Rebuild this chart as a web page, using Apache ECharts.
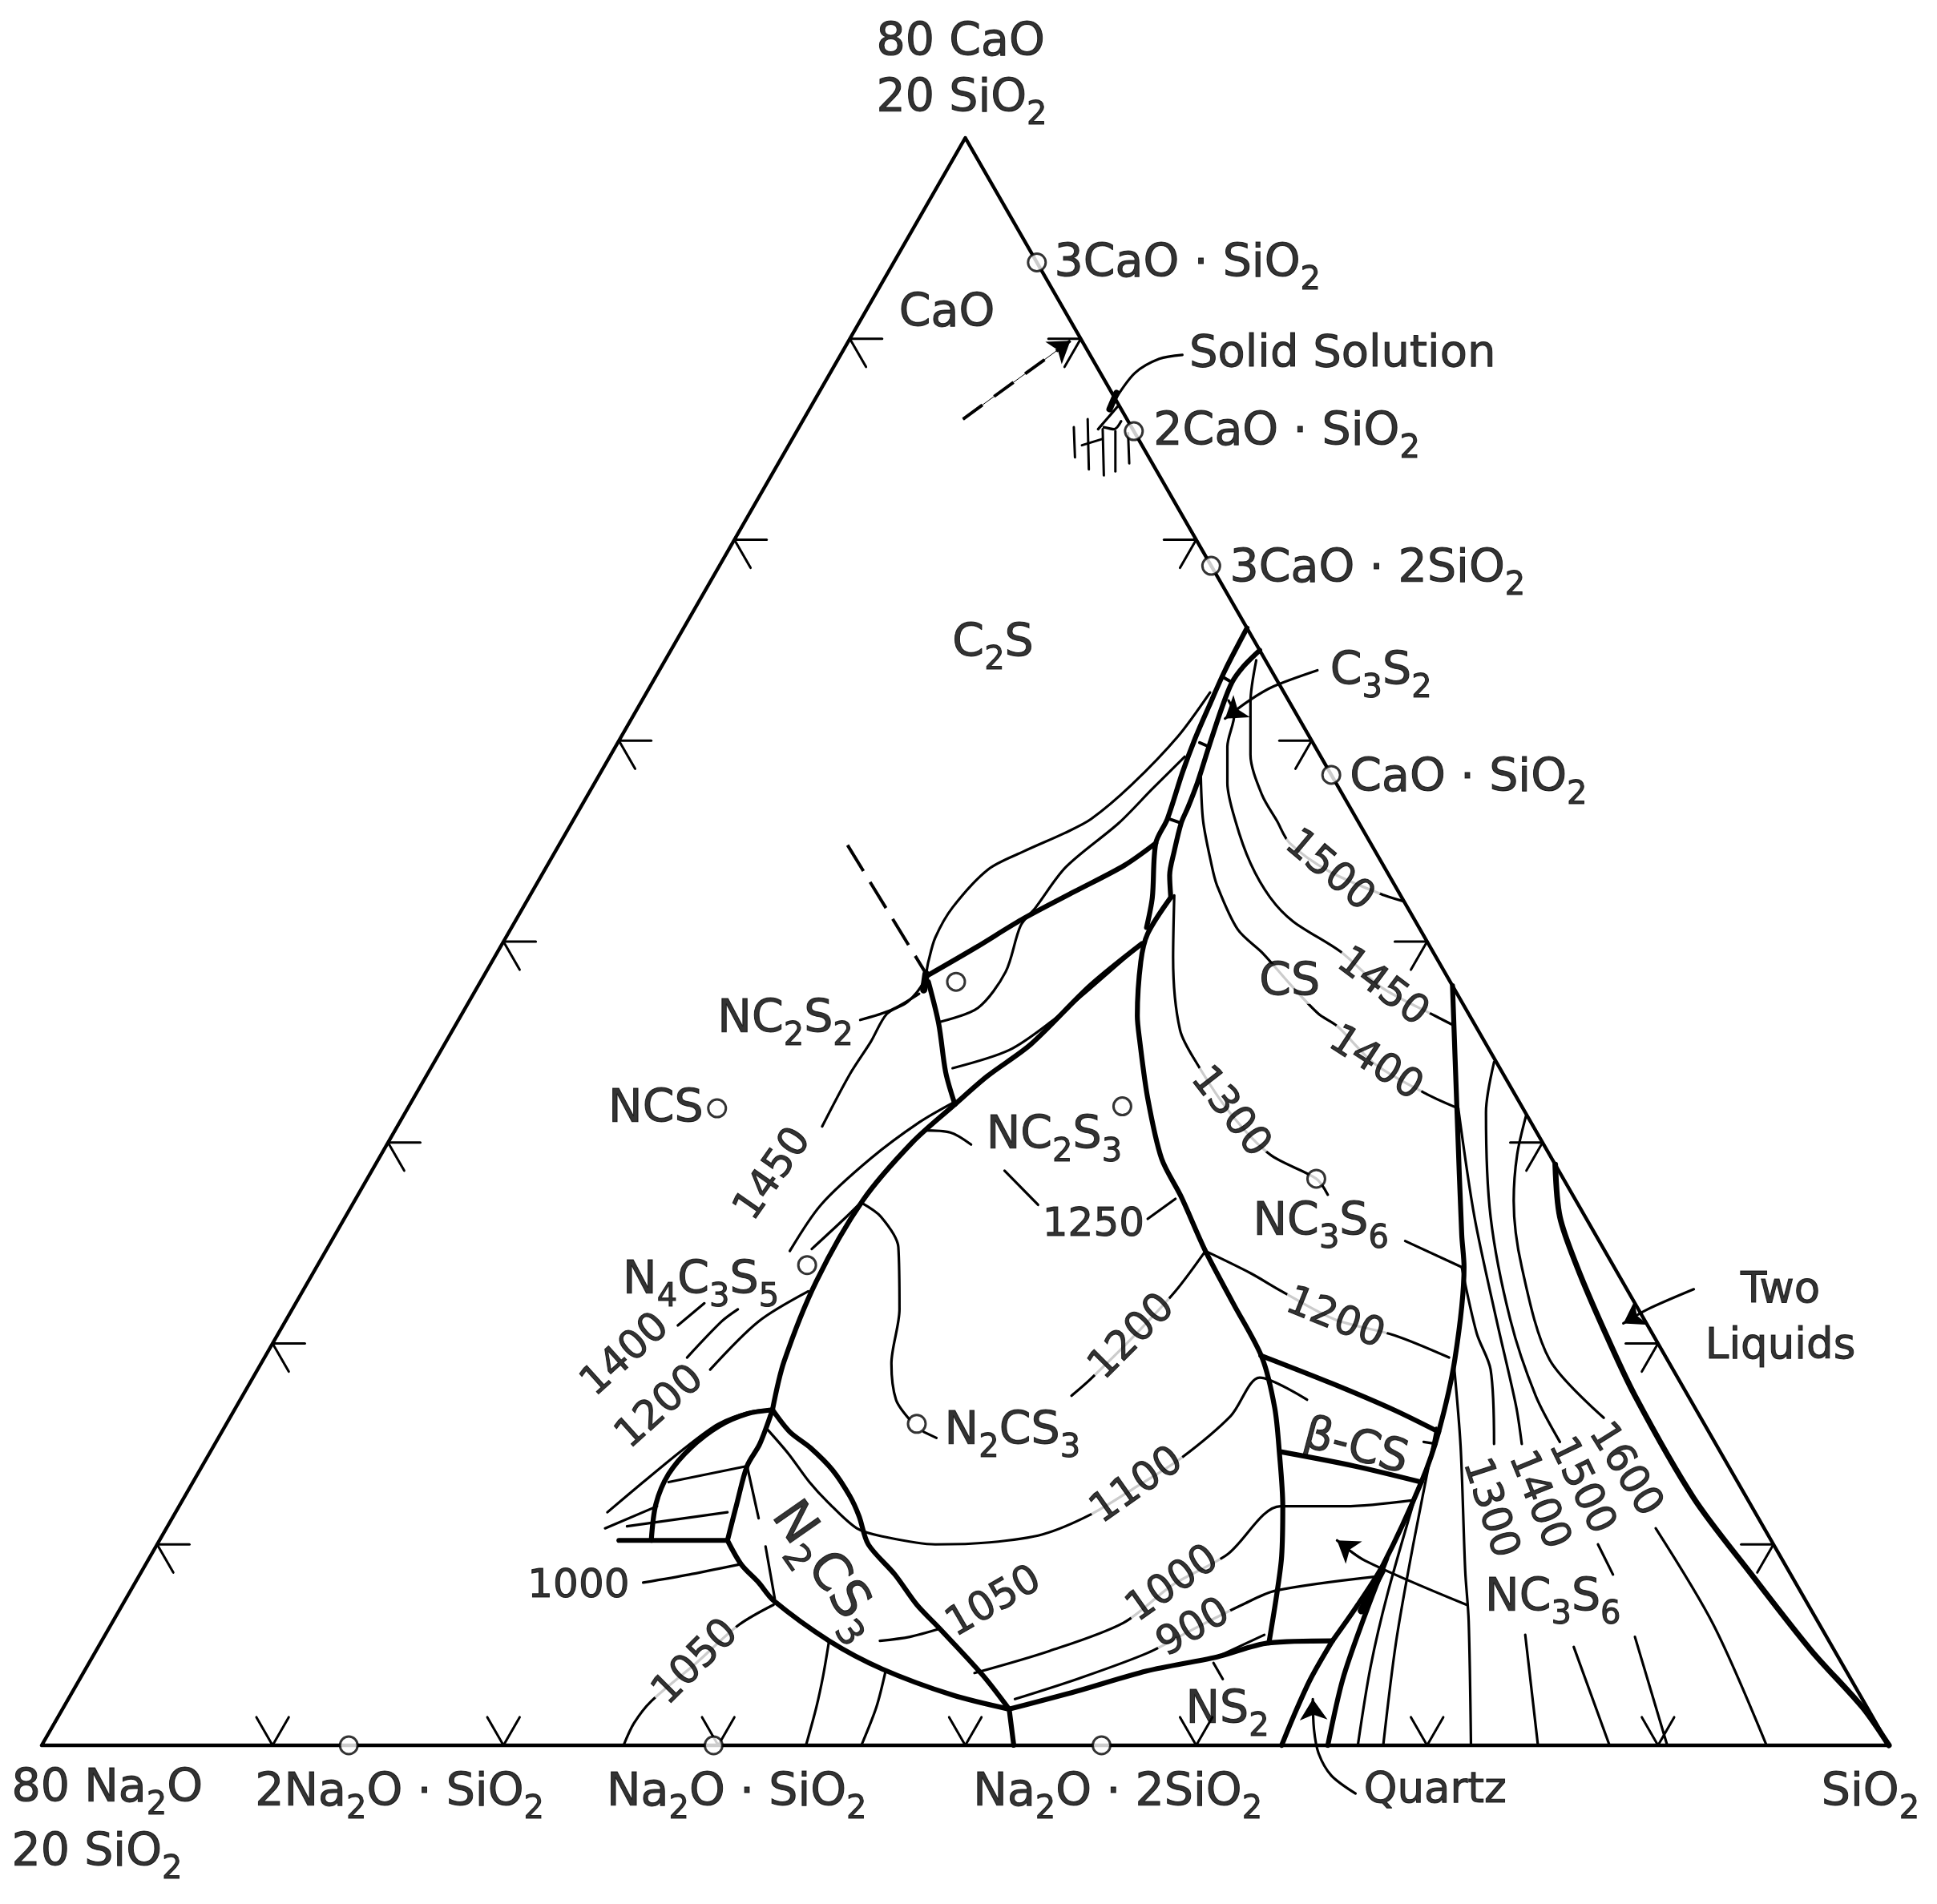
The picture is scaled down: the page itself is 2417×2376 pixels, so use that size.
<!DOCTYPE html>
<html>
<head>
<meta charset="utf-8">
<title>Na2O-CaO-SiO2 liquidus</title>
<script src="https://cdn.jsdelivr.net/npm/echarts@6/dist/echarts.min.js"></script>
<style>
html,body{margin:0;padding:0;background:#fff;}
#chart{width:2417px;height:2376px;}
</style>
</head>
<body>
<div id="chart"></div>
<script>
// Every point is a composition in weight per cent: [CaO, SiO2]  (Na2O = 100 - CaO - SiO2)
// Diagram corners: 80 Na2O.20 SiO2 (left), 80 CaO.20 SiO2 (top), SiO2 (right)
const corners = [[0,20],[80,20],[0,100],[0,20]];
const edgeTicksCaO = [10,20,30,40,50,60,70];
const baseTicksSiO2 = [30,40,49.3,60,70,80,90];

// compound compositions (circles)
const compounds = [[73.8,26.2],[65.4,34.6],[58.7,41.3],[48.3,51.7],[0,33.3],[0,49.1],[0,65.9],
  [31.7,33.4],[38.0,40.6],[31.8,50.9],[23.9,41.2],[16.0,49.9],[28.2,61.1]];

// ---- field boundaries (heavy lines)
const ladderL = [[55.6,44.4],[53.5,44.5],[51.7,44.7],[50.1,44.9],[48.4,45.2],[46.1,45.7],[44.9,45.8],[42.2,47.0],[40.7,47.5]];
const ladderR = [[54.5,45.5],[53.7,45.2],[52.9,45.1],[51.6,45.3],[49.7,45.7],[47.9,46.1],[46.7,46.3],[45.9,46.4],[44.5,46.8],[43.3,47.2],[42.2,47.8]];
const ladderBars = [[[53.2,44.5],[52.9,45.1]],[[49.9,45.2],[49.7,45.7]],[[46.1,45.8],[45.9,46.4]]];
const csBoundary = [[42.2,47.8],[40.4,47.7],[39.0,48.1],[36.3,49.3],[35.1,50.0],[32.2,51.8],[29.2,53.9],[27.3,55.7],[24.6,58.1],[22.0,60.6],[19.3,63.2],[16.8,65.0],[14.6,66.3],[11.9,67.8],[9.4,69.0],[7.6,69.7],[5.1,70.6]];
const nc2s2Up = [[38.3,39.2],[39.7,40.6],[41.1,41.9],[42.5,43.5],[43.8,45.0],[44.9,45.8]];
const nc2s2Down = [[38.0,39.4],[35.9,40.9],[33.5,42.4],[31.9,43.6]];
const longBoundary = [[39.9,47.7],[37.8,46.5],[34.9,45.4],[33.3,44.3],[31.9,43.6],[30.0,42.7],[27.1,42.0],[23.1,42.0],[19.1,42.6],[16.7,43.3]];
const n2cs3Left = [[16.7,43.3],[15.0,43.6],[13.9,43.6],[12.0,44.1],[10.2,44.6]];
const n2cs3Bottom = [[10.2,44.6],[9.0,45.8],[8.1,47.0],[7.2,48.1],[5.2,51.5],[3.8,54.5],[2.5,58.2],[1.8,61.0]];
const n2cs3Right = [[16.7,43.3],[15.6,44.6],[14.8,45.9],[13.7,47.4],[12.4,48.8],[11.4,49.7],[10.0,50.8],[8.5,52.7],[7.0,54.4],[5.8,56.0],[3.5,59.0],[1.8,61.0]];
const junctionToBase = [[1.8,61.0],[0,62.1]];
const leftArcThick = [[10.2,41.3],[12.0,40.6],[13.5,40.4],[14.8,40.7],[15.9,41.4],[16.5,42.3],[16.7,43.3]];
const leftFlatThick = [[10.2,39.9],[10.2,44.6]];
const ns2Boundary = [[1.8,61.0],[2.7,63.5],[3.7,66.0],[4.4,68.7],[5.1,70.6],[5.2,73.3]];
const triRight = [[37.8,62.2],[31.4,65.6],[25.4,68.8],[23.8,69.7],[19.2,71.6],[15.6,72.7],[13.1,73.2],[9.0,73.6],[7.0,73.5],[5.2,73.3]];
const betaTop = [[19.4,63.1],[18.0,66.9],[16.7,70.2],[15.6,72.7]];
const betaBottom = [[14.6,66.4],[13.9,69.9],[13.1,73.2]];
const quartzA = [[5.2,73.3],[3.3,73.3],[1.4,73.5],[0,73.7]];
const quartzB = [[9.3,73.6],[6.3,74.1],[3.3,74.7],[0,75.7]];
const quartzWedge = [[8.7,73.7],[6.7,73.8]];
const twoLiquids = [[28.9,71.1],[26.3,72.6],[23.8,74.6],[20.7,77.3],[17.4,80.3],[12.3,85.4],[8.5,89.8],[4.7,94.3],[1.9,97.9],[0,100]];

// ---- isotherms and other light lines
const iso1500 = [[54.0,45.6],[51.9,46.4],[49.3,47.7],[47.3,49.2],[46.0,50.5],[44.9,51.6],[43.5,54.0],[42.3,57.0],[42.0,58.0]];
const iso1450cs = [[52.0,45.4],[51.3,46.0],[49.7,46.5],[47.9,47.4],[46.0,48.7],[43.9,50.4],[42.2,52.1],[41.0,53.7],[39.5,56.5],[37.7,59.2],[36.3,62.2],[35.8,63.3]];
const iso1400cs = [[48.2,46.1],[46.0,47.3],[43.9,48.7],[42.8,49.5],[40.6,51.5],[39.4,53.2],[37.9,55.1],[36.4,57.1],[35.8,58.2],[33.9,60.8],[32.4,63.8],[31.7,65.5]];
const iso1300cs = [[42.3,47.9],[39.2,49.4],[35.6,51.5],[33.9,53.1],[31.5,55.7],[29.4,58.5],[28.2,61.1],[27.4,62.0]];
const iso1300csEnd = [[25.1,66.5],[23.8,69.6]];
const iso1200cs = [[24.6,58.1],[23.5,60.6],[22.6,62.4],[21.2,65.4],[20.4,68.4],[19.3,71.3]];
const iso1450c2s = [[52.4,44.4],[50.2,44.1],[47.8,43.3],[46.1,42.4],[45.4,41.6],[44.5,40.3],[43.6,39.2],[41.7,38.6],[40.2,38.6],[39.0,38.9],[38.0,39.2],[37.0,39.0],[36.4,38.4],[35.0,38.4],[33.4,38.3],[30.8,38.4]];
const lineG = [[49.2,44.9],[47.6,44.3],[45.9,43.7],[43.7,42.5],[41.7,42.2],[40.8,42.0],[38.5,42.5],[36.7,42.2],[36.0,40.9]];
const lineH = [[33.7,42.6],[34.6,44.6],[36.0,45.7],[37.7,46.6],[39.7,47.6]];
const iso1400left = [[24.6,40.1],[26.9,40.3],[29.2,41.3],[31.0,42.5],[32.0,43.5]];
const segD = [[20.9,37.1],[22.0,37.7]];
const segA = [[19.3,38.3],[21.1,38.9],[21.7,39.3]];
const segB = [[18.7,39.6],[21.1,40.5],[22.6,41.9]];
const segC = [[24.7,41.0],[26.3,41.7],[27.1,42.0]];
const loopN2CS3 = [[27.0,42.0],[26.3,43.2],[24.8,44.7],[21.7,46.3],[19.0,47.3],[17.2,48.4],[16.2,49.5]];
const iso1250a = [[30.6,42.9],[30.5,44.1],[29.9,45.3]];
const iso1250b = [[28.6,47.4],[26.9,49.7]];
const iso1250c = [[26.2,54.8],[27.2,55.5]];
const iso1200mid = [[24.6,58.1],[22.6,57.8],[20.3,57.1],[18.2,56.3],[17.4,55.9]];
const iso1100 = [[15.7,43.6],[14.5,45.1],[13.1,46.7],[12.1,48.0],[10.8,49.9],[10.4,51.2],[10.0,53.7],[10.1,56.0],[10.5,58.1],[11.5,59.7],[12.9,61.0],[14.3,62.2],[16.4,63.3],[18.3,63.6],[17.2,66.2]];
const iso1050mid = [[5.2,53.7],[5.4,54.9],[5.8,56.0]];
const iso1000right = [[3.6,58.6],[4.7,61.3],[6.1,63.8],[8.0,65.0],[9.5,66.6],[11.9,67.7],[11.9,70.5],[12.2,73.3]];
const iso900 = [[2.3,61.0],[3.3,63.2],[4.6,65.6],[5.8,67.0],[7.0,68.5],[7.7,69.6],[8.4,73.6]];
const iso1050left = [[0,45.2],[1.1,45.1],[2.2,45.3],[4.1,46.3],[6.0,47.2],[7.0,48.2]];
const iso1000left = [[8.1,42.0],[8.5,43.8],[9.0,45.7]];
const leftArcThin = [[11.6,38.7],[13.1,39.5],[14.7,40.4],[16.0,41.3],[16.6,42.4],[16.7,43.3]];
const leftShort = [[10.8,39.0],[11.9,40.7]];
const leftFlatThin = [[10.9,39.9],[11.6,43.9]];
const leftMid = [[13.1,40.6],[13.9,43.6]];
const n2cs3In1 = [[13.9,43.6],[11.3,45.4]];
const n2cs3In2 = [[9.9,46.4],[7.3,48.1]];
const belowA = [[5.2,51.5],[3.5,52.1],[1.9,52.6],[0,53.1]];
const belowB = [[3.7,54.7],[1.9,55.2],[0,55.5]];
const ns2Thin = [[4.4,68.7],[5.5,70.2]];
const ns2Leader = [[4.1,68.7],[3.3,69.5]];
const betaDash = [[15.1,72.3],[15.0,72.9]];
const quartzC = [[12.8,73.2],[7.6,74.5],[3.9,75.6],[0,77.0]];
const quartzD = [[15.8,72.5],[10.0,74.4],[5.1,76.1],[0,78.1]];
const tridyLine = [[19.1,71.6],[14.9,74.0],[8.7,77.3],[6.2,78.7],[0,81.9]];
const iso1300trUp = [[23.8,69.6],[20.5,71.9],[18.7,73.4],[15.0,75.4]];
const iso1300trLow = [[5.5,81.5],[0,84.8]];
const iso1400trUp = [[31.7,65.5],[26.3,68.9],[21.2,72.4],[16.9,75.4],[15.0,76.6]];
const iso1400trLow = [[4.9,83.9],[0,87.9]];
const iso1500trUp = [[34.0,65.9],[31.5,66.8],[26.3,69.6],[21.2,73.0],[17.4,76.0],[15.1,78.2]];
const iso1500trDash = [[10.0,82.4],[8.5,83.8]];
const iso1500trLow = [[5.4,86.3],[0,90.4]];
const iso1600trUp = [[31.4,68.6],[29.4,69.2],[27.1,70.2],[23.8,72.2],[19.2,75.7],[16.3,79.5]];
const iso1600trLow = [[10.8,84.5],[6.0,89.4],[0,94.7]];
const dashC2S = [[66.0,26.9],[69.9,29.6]];
const dashNC2S2 = [[44.8,32.5],[38.5,39.0]];

// leaders
const leaderTwoLiquids = [[22.7,80.2],[21.7,78.7],[21.0,78.0]];
const leaderQuartz = [[-2.4,78.1],[-1.5,76.6],[-0.4,75.5],[0.8,74.7],[2.3,73.9]];
const leaderNC3S6 = [[7.0,78.2],[9.2,72.7],[10.2,71.0]];
const leaderC3S2 = [[53.5,48.5],[52.7,47.0],[52.0,46.3],[51.1,45.7]];
const leaderNC2S2 = [[36.1,37.4],[36.6,38.5],[37.4,39.3]];
const leaderSolid = [[67.0,33.0],[68.3,33.2],[69.0,33.9],[69.2,34.8]];
const leaderN2CS3 = [[15.6,50.4],[15.3,51.1]];
const solidBlob = [[67.3,32.9],[66.5,33.0]];
const nc2s2Blob = [[38.4,39.1],[37.6,39.4]];
const solidHook1 = [[66.7,33.3],[65.9,33.1],[65.5,33.0]];
const solidHook2 = [[65.6,33.2],[65.5,33.7],[65.9,33.8]];
const solidHatch = [[[65.6,31.9],[64.1,32.7]],[[66.0,32.3],[63.5,33.6]],[[65.5,33.2],[63.2,34.4]],[[65.4,33.8],[63.4,34.8]],[[65.3,34.4],[63.8,35.2]],[[64.7,32.7],[65.0,33.4]]];

// ---- text: [text, composition, align, rotate, fontSize, whiteBackground, lineHeight]
const compoundLabels = [
  ['80 CaO',[84.7,13.8],'left'],
  ['20 SiO{s|2}',[81.9,15.2],'left'],
  ['3CaO · SiO{s|2}',[73.7,27.0],'left'],
  ['2CaO · SiO{s|2}',[65.3,35.5],'left'],
  ['3CaO · 2SiO{s|2}',[58.5,42.2],'left'],
  ['CaO · SiO{s|2}',[48.1,52.6],'left'],
  ['C{s|3}S{s|2}',[53.4,49.1],'left'],
  ['Solid Solution',[69.2,35.1],'left',0,56],
  ['CaO',[71.2,23.6],'center'],
  ['C{s|2}S',[54.8,33.8],'center'],
  ['NC{s|2}S{s|2}',[36.1,37.1],'right'],
  ['NCS',[31.6,30.8],'center'],
  ['NC{s|2}S{s|3}',[30.3,48.7],'center'],
  ['N{s|4}C{s|3}S{s|5}',[23.1,37.0],'center'],
  ['N{s|2}CS{s|3}',[15.6,51.3],'left'],
  ['CS',[37.9,55.1],'center',0,57,true,50],
  ['NC{s|3}S{s|6}',[26.0,62.4],'center'],
  ['β-CS',[14.8,69.5],'center',-15,57],
  ['N{s|2}CS{s|3}',[8.7,49.6],'center',-55,64],
  ['NC{s|3}S{s|6}',[7.3,81.8],'center'],
  ['NS{s|2}',[1.7,70.5],'center'],
  ['Quartz',[-2.3,81.5],'center',0,53],
  ['SiO{s|2}',[-2.4,100.4],'center'],
  ['Two\nLiquids',[21.2,84.7],'center',0,53,false,70],
  ['80 Na{s|2}O',[-2.2,19.8],'left'],
  ['20 SiO{s|2}',[-5.4,21.4],'left'],
  ['2Na{s|2}O · SiO{s|2}',[-2.4,36.7],'center'],
  ['Na{s|2}O · SiO{s|2}',[-2.4,51.3],'center'],
  ['Na{s|2}O · 2SiO{s|2}',[-2.4,67.8],'center']
];
// [text, composition, rotate, whiteBackground]
const isothermLabels = [
  ['1500',[43.5,54.0],-40,true],['1450',[37.7,59.2],-37,true],['1400',[33.9,60.8],-33,true],['1300',[31.5,55.7],-52,true],
  ['1250',[25.9,52.6],0,false],['1200',[21.2,65.4],-22,true],['1200',[20.3,57.1],45,true],['1100',[12.9,61.0],35,true],
  ['1050',[7.1,57.7],30,false],['1000',[8.0,65.0],35,true],['900',[5.8,67.0],30,true],['1000',[7.9,39.3],0,false],
  ['1050',[4.1,46.3],45,true],['1450',[28.4,37.5],55,false],['1400',[19.4,35.6],42,false],['1200',[16.8,38.4],42,false],
  ['1300',[11.8,76.8],-72,false],['1400',[12.2,78.7],-68,false],['1500',[12.9,80.2],-64,false],['1600',[13.7,81.7],-58,false]
];

// ---------------------------------------------------------------
function tern(p){ const a = p[0]/80, b = (p[1]-20)/80; return [b + a/2, a]; }
const INK = '#000';
const FONT = 'DejaVu Sans';
const series = [];
function curve(pts, w, opt){
  opt = opt || {};
  series.push({type:'line', data: pts.map(tern), showSymbol:false, symbol:'none',
    smooth: opt.smooth === undefined ? 0.3 : opt.smooth, clip:false, silent:true, z: opt.z || 2,
    lineStyle:{color:INK, width:w, type: opt.dash || 'solid', cap: opt.cap || 'round', join:'round'}});
}
function arrowHead(pts, w){
  const n = pts.length;
  series.push({type:'lines', coordinateSystem:'cartesian2d', silent:true, z:4,
    data:[{coords:[tern(pts[n-2]), tern(pts[n-1])]}], symbol:['none','arrow'], symbolSize:[18,26],
    lineStyle:{color:INK, width:w, opacity:1, curveness:0}});
}
const HEAVY = 6.2, LIGHT = 3.2;

curve(corners, 4.5, {smooth:0});
// ticks
const tickLen = 1.4;
edgeTicksCaO.forEach(function(c){
  curve([[c,20],[c,20+tickLen]], 3, {smooth:0});
  curve([[c,20],[c-tickLen,20+tickLen]], 3, {smooth:0});
  curve([[c,100-c],[c,100-c-tickLen]], 3, {smooth:0});
  curve([[c,100-c],[c-tickLen,100-c]], 3, {smooth:0});
});
baseTicksSiO2.forEach(function(s){
  curve([[0,s],[tickLen,s]], 3, {smooth:0});
  curve([[0,s],[tickLen,s-tickLen]], 3, {smooth:0});
});

[ladderL, ladderR, csBoundary, nc2s2Up, nc2s2Down, longBoundary, n2cs3Left, n2cs3Bottom, n2cs3Right,
 junctionToBase, leftArcThick, ns2Boundary, triRight, betaTop, betaBottom, quartzA, quartzB].forEach(function(p){ curve(p, HEAVY); });
curve(leftFlatThick, HEAVY, {smooth:0});
ladderBars.forEach(function(p){ curve(p, 4, {smooth:0}); });
curve(twoLiquids, 7);
curve(quartzWedge, 9, {smooth:0});

[iso1500, iso1450cs, iso1400cs, iso1300cs, iso1300csEnd, iso1200cs, iso1450c2s, lineG, lineH, iso1400left, segD, segA, segB, segC,
 loopN2CS3, iso1250a, iso1250b, iso1250c, iso1200mid, iso1100, iso1050mid, iso1000right, iso900, iso1050left, iso1000left,
 leftArcThin, leftShort, leftFlatThin, leftMid, n2cs3In1, n2cs3In2, belowA, belowB, ns2Thin, ns2Leader, betaDash,
 quartzC, quartzD, tridyLine, iso1300trUp, iso1300trLow, iso1400trUp, iso1400trLow, iso1500trUp, iso1500trDash, iso1500trLow,
 iso1600trUp, iso1600trLow,
 leaderNC2S2, leaderSolid, leaderN2CS3, solidHook1, solidHook2].forEach(function(p){ curve(p, LIGHT); });
solidHatch.forEach(function(p){ curve(p, 3, {smooth:0}); });
curve(solidBlob, 8, {smooth:0});
curve(nc2s2Blob, 9, {smooth:0});

curve(dashC2S, 4, {smooth:0, dash:[30,18], cap:'butt'});
arrowHead(dashC2S, 1);
curve(dashNC2S2, 4, {smooth:0, dash:[38,16], cap:'butt'});
[leaderTwoLiquids, leaderQuartz, leaderNC3S6, leaderC3S2].forEach(function(p){ curve(p, LIGHT); arrowHead(p, 1); });

// compound circles
series.push({type:'scatter', data: compounds.map(tern), symbol:'circle', symbolSize:22, clip:false, silent:true, z:12,
  itemStyle:{color:'#fff', borderColor:INK, borderWidth:3}});

// labels
function labelItem(t){
  const fs = t[4] || 57;
  const sub = Math.round(fs*0.7);
  const lh = t[6] || (sub + Math.round(fs*0.72));
  return {value: tern(t[1]), label:{formatter:t[0], align:t[2] || 'center', rotate:t[3] || 0, fontSize:fs, lineHeight:lh,
    backgroundColor: t[5] ? '#fff' : 'transparent', padding: t[5] ? [0,4,0,4] : 0,
    rich:{s:{fontSize:sub, lineHeight:sub, verticalAlign:'bottom', fontFamily:FONT, color:INK,
      textBorderColor:INK, textBorderWidth:1}}}};
}
function isoItem(t){
  return {value: tern(t[1]), label:{formatter:t[0], rotate:t[2], align:'center', fontSize:50, lineHeight:42,
    backgroundColor: t[3] ? '#fff' : 'transparent', padding: t[3] ? [0,3,0,3] : 0}};
}
series.push({type:'scatter', data: compoundLabels.map(labelItem).concat(isothermLabels.map(isoItem)),
  symbolSize:1, itemStyle:{color:'rgba(0,0,0,0)'}, clip:false, silent:true, z:10,
  label:{show:true, position:'inside', verticalAlign:'middle', color:INK, fontFamily:FONT,
    textBorderColor:INK, textBorderWidth:1}});

const chart = echarts.init(document.getElementById('chart'), null, {renderer:'canvas', width:2417, height:2376});
chart.setOption({
  animation:false,
  backgroundColor:'#fff',
  grid:{left:52, top:172, width:2305, height:2006},
  xAxis:{type:'value', min:0, max:1, show:false},
  yAxis:{type:'value', min:0, max:1, show:false},
  series: series
});
</script>
</body>
</html>
